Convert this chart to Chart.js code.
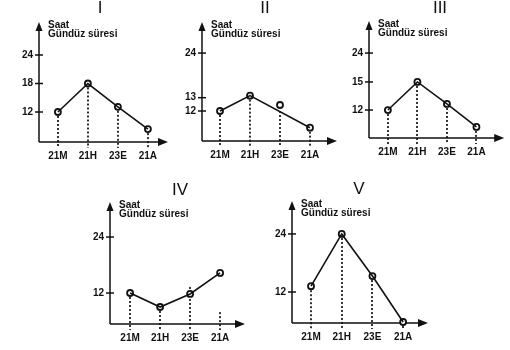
<!DOCTYPE html>
<html>
<head>
<meta charset="utf-8">
<script src="https://cdn.jsdelivr.net/npm/chart.js@4.4.1/dist/chart.umd.min.js"></script>
<style>
html, body { margin: 0; padding: 0; background: #fff; }
#wrap { position: relative; width: 510px; height: 350px; }
canvas { position: absolute; left: 0; top: 0; }
</style>
</head>
<body>
<div id="wrap">
  <canvas id="c1" width="510" height="350"></canvas>
  <canvas id="c2" width="510" height="350"></canvas>
  <canvas id="c3" width="510" height="350"></canvas>
  <canvas id="c4" width="510" height="350"></canvas>
  <canvas id="c5" width="510" height="350"></canvas>
</div>
<script>
const categories = ['21M', '21H', '23E', '21A'];
const yLabel = ['Saat', 'Gündüz süresi'];

const ticksI = [12, 18, 24];
const valuesI = [12, 18, 13.1, 8.4];

const ticksII = [12, 13, 24];
const valuesII = [12, 13.5, 12.45, 10.75];
const lineII = [12, 13.5, null, 10.75];   // 23E point sits off the line
const dropsII = [12, 13.5, 12, 10.75];

const ticksIII = [12, 15, 24];
const valuesIII = [12, 15, 12.65, 10.2];

const ticksIV = [12, 24];
const valuesIV = [12, 9, 11.8, 16.3];
const dropsIV = [12, 9, 13.3, 7.9];

const ticksV = [12, 24];
const valuesV = [13.2, 24, 15.3, 5.8];

// y scale drawn like the hand made sketches: value -> fraction of axis height, piece by piece
class StopScale extends Chart.LinearScale {
    toDecimal(v) {
        const s = this.options.stops;
        let i = 0;
        while (i < s.length - 2 && v > s[i + 1][0]) i++;
        const [v0, f0] = s[i], [v1, f1] = s[i + 1];
        return f0 + (v - v0) * (f1 - f0) / (v1 - v0);
    }
    getPixelForValue(v) {
        return v === null || v === undefined ? NaN : this.getPixelForDecimal(this.toDecimal(v));
    }
}
StopScale.id = 'stops';
StopScale.defaults = Chart.LinearScale.defaults;
Chart.register(StopScale);

const INK = '#111';
const FONT = '"Liberation Sans", Arial, sans-serif';

const deco = {
    id: 'deco',
    beforeDatasetsDraw(chart, args, o) {
        const { ctx, chartArea: a, scales: { x, y } } = chart;
        ctx.save();
        ctx.strokeStyle = INK;
        ctx.fillStyle = INK;

        // dotted drop lines
        ctx.lineWidth = 1.7;
        ctx.setLineDash([2, 2]);
        o.drops.forEach((v, i) => {
            if (v == null) return;
            const px = Math.round(x.getPixelForValue(i));
            ctx.beginPath();
            ctx.moveTo(px, y.getPixelForValue(v));
            ctx.lineTo(px, a.bottom + 6);
            ctx.stroke();
        });
        ctx.setLineDash([]);

        // axes
        ctx.lineWidth = 1.5;
        ctx.beginPath();
        ctx.moveTo(a.left, a.bottom);
        ctx.lineTo(a.left, a.top + 5);
        ctx.moveTo(a.left, a.bottom);
        ctx.lineTo(a.right - 5, a.bottom);
        ctx.stroke();

        // arrow heads
        ctx.beginPath();
        ctx.moveTo(a.left, a.top);
        ctx.lineTo(a.left - 3.5, a.top + 9);
        ctx.lineTo(a.left + 3.5, a.top + 9);
        ctx.closePath();
        ctx.fill();
        ctx.beginPath();
        ctx.moveTo(a.right, a.bottom);
        ctx.lineTo(a.right - 10, a.bottom - 4);
        ctx.lineTo(a.right - 10, a.bottom + 4);
        ctx.closePath();
        ctx.fill();

        // y tick marks
        y.ticks.forEach((t, i) => {
            const py = y.getPixelForTick(i);
            ctx.beginPath();
            ctx.moveTo(a.left - 4, py);
            ctx.lineTo(a.left + 4, py);
            ctx.stroke();
        });

        // axis caption
        ctx.font = 'bold 10px ' + FONT;
        ctx.textAlign = 'left';
        ctx.textBaseline = 'middle';
        ctx.fillText(yLabel[0], a.left + 9, a.top + 3);
        ctx.fillText(yLabel[1], a.left + 9, a.top + 12);

        // panel title
        ctx.font = '17px ' + FONT;
        ctx.textAlign = 'center';
        ctx.fillText(o.title, o.tx, o.ty);
        ctx.restore();
    }
};

const panels = [
    { id: 'c1', title: 'I',   tx: 100, ty: 8,   axisX: 39,  axisY: 142, topY: 22,  tipX: 168, xMin: -0.63, xMax: 3.67,
      stops: [[12, 0.25], [24, 0.725]], ticks: ticksI, line: valuesI, points: valuesI, drops: valuesI },
    { id: 'c2', title: 'II',  tx: 265, ty: 8,   axisX: 202, axisY: 141, topY: 22,  tipX: 337, xMin: -0.6,  xMax: 3.9,
      stops: [[12, 0.252], [13, 0.364], [24, 0.739]], ticks: ticksII, line: lineII, points: valuesII, drops: dropsII },
    { id: 'c3', title: 'III', tx: 440, ty: 8,   axisX: 369, axisY: 138, topY: 21,  tipX: 505, xMin: -0.64, xMax: 3.94,
      stops: [[12, 0.239], [15, 0.479], [24, 0.726]], ticks: ticksIII, line: valuesIII, points: valuesIII, drops: valuesIII },
    { id: 'c4', title: 'IV',  tx: 180, ty: 190, axisX: 110, axisY: 324, topY: 202, tipX: 245, xMin: -0.67, xMax: 3.83,
      stops: [[12, 0.254], [24, 0.713]], ticks: ticksIV, line: valuesIV, points: valuesIV, drops: dropsIV },
    { id: 'c5', title: 'V',   tx: 359, ty: 189, axisX: 292, axisY: 323, topY: 201, tipX: 428, xMin: -0.62, xMax: 3.81,
      stops: [[12, 0.254], [24, 0.73]], ticks: ticksV, line: valuesV, points: valuesV, drops: valuesV }
];

const toXY = arr => arr.map((v, i) => ({ x: i, y: v }));

panels.forEach(p => {
    new Chart(document.getElementById(p.id), {
        type: 'line',
        data: {
            datasets: [
                {
                    data: toXY(p.line),
                    borderColor: INK,
                    borderWidth: 1.6,
                    pointRadius: 0,
                    tension: 0,
                    spanGaps: true,
                    clip: false
                },
                {
                    data: toXY(p.points),
                    showLine: false,
                    pointRadius: 3,
                    pointBorderWidth: 1.8,
                    pointBackgroundColor: '#fff',
                    pointBorderColor: INK,
                    clip: false
                }
            ]
        },
        options: {
            responsive: false,
            animation: false,
            events: [],
            layout: {
                padding: { left: p.axisX - 30, top: p.topY, right: 510 - p.tipX, bottom: 350 - p.axisY - 25 }
            },
            plugins: {
                legend: { display: false },
                tooltip: { enabled: false },
                deco: { title: p.title, tx: p.tx, ty: p.ty, drops: p.drops }
            },
            scales: {
                x: {
                    type: 'linear',
                    min: p.xMin,
                    max: p.xMax,
                    afterFit: s => { s.height = 25; },
                    afterBuildTicks: s => { s.ticks = categories.map((c, i) => ({ value: i })); },
                    grid: { display: false, drawTicks: false },
                    border: { display: false },
                    ticks: {
                        autoSkip: false, maxRotation: 0, padding: 8,
                        color: INK, font: { family: FONT, size: 10, weight: 'bold' },
                        callback: v => categories[v]
                    }
                },
                y: {
                    type: 'stops',
                    stops: p.stops,
                    min: 0,
                    max: 30,
                    afterFit: s => { s.width = 30; },
                    afterBuildTicks: s => { s.ticks = p.ticks.map(v => ({ value: v })); },
                    grid: { display: false, drawTicks: false },
                    border: { display: false },
                    ticks: {
                        autoSkip: false, padding: 6,
                        color: INK, font: { family: FONT, size: 10, weight: 'bold' },
                        callback: v => v
                    }
                }
            }
        },
        plugins: [deco]
    });
});
</script>
</body>
</html>
